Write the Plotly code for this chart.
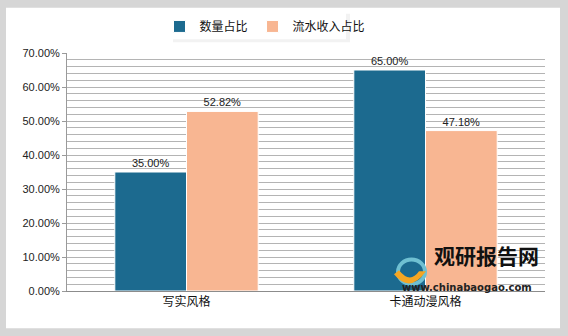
import plotly.graph_objects as go

categories = ["写实风格", "卡通动漫风格"]
series_names = ["数量占比", "流水收入占比"]
count_share = [0.35, 0.65]
revenue_share = [0.5282, 0.4718]
colors = ["#1C6A8F", "#F8B692"]

W, H = 568, 336
L, R, T, B = 67, 23, 49, 45
pw, ph = W - L - R, H - T - B

def px(x):
    return (x - L) / pw

def py(y):
    return (H - B - y) / ph

fig = go.Figure()
for name, vals, col in zip(series_names, [count_share, revenue_share], colors):
    fig.add_trace(go.Bar(
        x=categories, y=vals, name=name,
        marker=dict(color=col, line=dict(color="white", width=1)),
        text=[f"{v*100:.2f}%" for v in vals],
        textposition="outside", cliponaxis=False,
        textfont=dict(family="Liberation Sans, sans-serif", size=11, color="#222"),
    ))

shapes = [
    dict(type="rect", xref="paper", yref="paper", x0=px(6), x1=px(560), y0=py(329), y1=py(3),
         fillcolor="white", line=dict(width=0), layer="below"),
    dict(type="rect", xref="paper", yref="paper", x0=px(173), x1=px(350), y0=py(38), y1=py(9),
         fillcolor="rgba(0,0,0,0.05)", line=dict(width=0), layer="below"),
    dict(type="rect", xref="paper", yref="paper", x0=px(170), x1=px(346), y0=py(35), y1=py(7),
         fillcolor="white", line=dict(width=0), layer="below"),
]
# rough logo
shapes.append(dict(type="circle", xref="paper", yref="paper", x0=px(398), x1=px(425), y0=py(284), y1=py(259),
                   line=dict(color="#6FC0D2", width=4), fillcolor="rgba(0,0,0,0)"))
shapes.append(dict(type="path", xref="paper", yref="paper",
                   path=f"M {px(394)},{py(274)} Q {px(410)},{py(294)} {px(426)},{py(271)} L {px(419)},{py(271)} Q {px(410)},{py(284)} {px(399)},{py(270)} Z",
                   fillcolor="#F5A623", line=dict(width=0)))

fig.update_layout(
    width=W, height=H,
    margin=dict(l=L, r=R, t=T, b=B),
    paper_bgcolor="#D6D6D6",
    plot_bgcolor="rgba(0,0,0,0)",
    barmode="group", bargap=0.4, bargroupgap=0,
    font=dict(family="Noto Sans CJK SC, sans-serif", color="#111"),
    legend=dict(orientation="h", x=px(265), xanchor="center", y=py(22), yanchor="middle",
                bgcolor="rgba(0,0,0,0)", font=dict(size=12), itemwidth=30,
                tracegroupgap=0),
    shapes=shapes,
    showlegend=True,
)
fig.update_yaxes(
    range=[0, 0.7], dtick=0.1, tickformat=".2%",
    showgrid=True, gridcolor="#B4B4B4", gridwidth=1,
    minor=dict(dtick=0.02, showgrid=True, gridcolor="#B4B4B4", gridwidth=1),
    showline=True, linecolor="#9A9A9A", linewidth=1,
    ticks="outside", ticklen=4, tickcolor="#9A9A9A",
    tickfont=dict(family="Liberation Sans, sans-serif", size=11, color="#222"),
    zeroline=False,
)
fig.update_xaxes(
    showline=True, linecolor="#8C8C8C", linewidth=1,
    tickfont=dict(size=12, color="#111"), ticks="",
)
fig.add_annotation(text="<b>观研报告网</b>", xref="paper", yref="paper", x=px(432), y=py(272),
                   xanchor="left", showarrow=False,
                   font=dict(size=21, color="#111", family="Noto Sans CJK SC"))
fig.add_annotation(text="<b>www.chinabaogao.com</b>", xref="paper", yref="paper", x=px(400), y=py(295),
                   xanchor="left", showarrow=False,
                   font=dict(size=10, color="#222", family="DejaVu Sans"))
fig.write_html("out.html")
